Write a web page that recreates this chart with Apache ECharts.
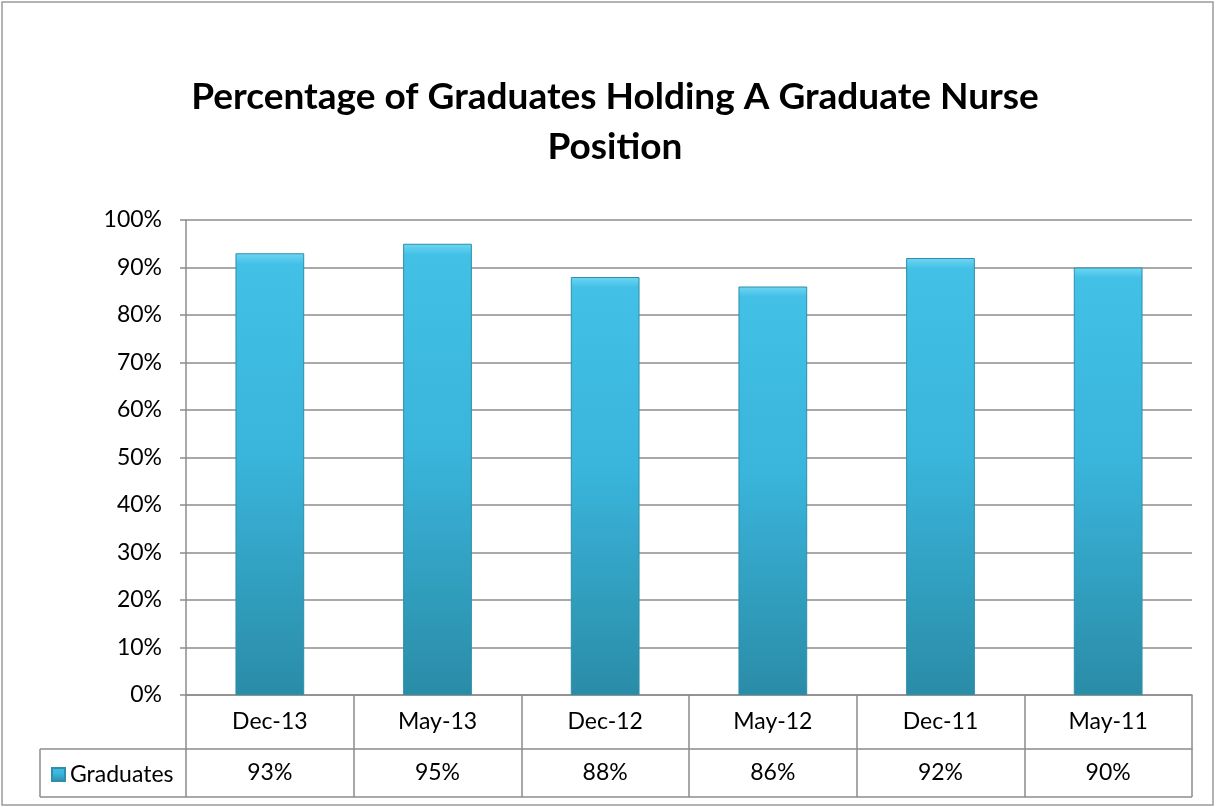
<!DOCTYPE html>
<html><head><meta charset="utf-8">
<script src="https://cdn.jsdelivr.net/npm/echarts@6/dist/echarts.min.js"></script>
<style>html,body{margin:0;padding:0;background:#fff}#c{width:1216px;height:807px}</style>
</head><body><div id="c"></div>
<script>
const categories = ["Dec-13", "May-13", "Dec-12", "May-12", "Dec-11", "May-11"];
const graduates = [93, 95, 88, 86, 92, 90];
const seriesName = "Graduates";
const titleText = "Percentage of Graduates Holding A Graduate Nurse\nPosition";

const FONT = 'Lato, "Open Sans", sans-serif';
const GL = 186, GR = 1192, GT = 220, GB = 695;
const ROW1 = 54, ROW2 = 48, TABLE_LEFT = 40;
const gray = '#8c8c8c';

const chart = echarts.init(document.getElementById('c'), null, {renderer: 'canvas'});
chart.setOption({
  animation: false,
  backgroundColor: '#fff',
  title: {
    text: titleText, left: 610, top: 67, textAlign: 'center',
    textStyle: {fontFamily: FONT, fontWeight: 'bold', fontSize: 37, color: '#000', lineHeight: 50}
  },
  legend: {
    data: [seriesName], left: 46, top: 758, icon: 'rect', itemWidth: 13, itemHeight: 13, itemGap: 4,
    textStyle: {fontFamily: FONT, fontSize: 23, color: '#000'}
  },
  grid: {left: GL, right: 1216 - GR, top: GT, bottom: 807 - GB, containLabel: false},
  xAxis: [{
    type: 'category', data: categories, position: 'bottom',
    axisLine: {show: true, lineStyle: {color: gray, width: 1.5}},
    axisTick: {show: true, length: ROW1, lineStyle: {color: gray, width: 1.5}},
    axisLabel: {fontFamily: FONT, fontSize: 23, color: '#000', margin: 15}
  }, {
    type: 'category', data: categories, position: 'bottom', offset: ROW1,
    axisLine: {show: true, lineStyle: {color: gray, width: 1.5}},
    axisTick: {show: true, length: ROW2, lineStyle: {color: gray, width: 1.5}},
    axisLabel: {fontFamily: FONT, fontSize: 23, color: '#000', margin: 12,
      formatter: (v, i) => graduates[i] + '%'}
  }],
  yAxis: {
    type: 'value', min: 0, max: 100, interval: 10,
    axisLine: {show: true, lineStyle: {color: gray, width: 1.5}},
    axisTick: {show: true, length: 6, lineStyle: {color: gray, width: 1.5}},
    axisLabel: {fontFamily: FONT, fontSize: 23, color: '#000', margin: 24, formatter: '{value}%'},
    splitLine: {show: true, lineStyle: {color: gray, width: 1.5}}
  },
  series: [{
    name: seriesName, type: 'bar', data: graduates, barWidth: '41%',
    itemStyle: {
      color: new echarts.graphic.LinearGradient(0, 0, 0, 1, [
        {offset: 0, color: '#6ed6f3'}, {offset: 0.025, color: '#42c0e6'}, {offset: 0.45, color: '#3ab5dc'}, {offset: 1, color: '#2a8ca7'}
      ]),
      borderColor: '#2d8faa', borderWidth: 1
    }
  }],
  graphic: [
    {type: 'rect', shape: {x: 2, y: 2, width: 1211, height: 803}, style: {fill: 'none', stroke: '#9a9a9a', lineWidth: 1.5}, silent: true},
    {type: 'line', shape: {x1: TABLE_LEFT, y1: GB + ROW1, x2: GL, y2: GB + ROW1}, style: {stroke: gray, lineWidth: 1.5}},
    {type: 'line', shape: {x1: TABLE_LEFT, y1: GB + ROW1 + ROW2, x2: GR, y2: GB + ROW1 + ROW2}, style: {stroke: gray, lineWidth: 1.5}},
    {type: 'line', shape: {x1: TABLE_LEFT, y1: GB + ROW1, x2: TABLE_LEFT, y2: GB + ROW1 + ROW2}, style: {stroke: gray, lineWidth: 1.5}}
  ]
});
</script></body></html>
